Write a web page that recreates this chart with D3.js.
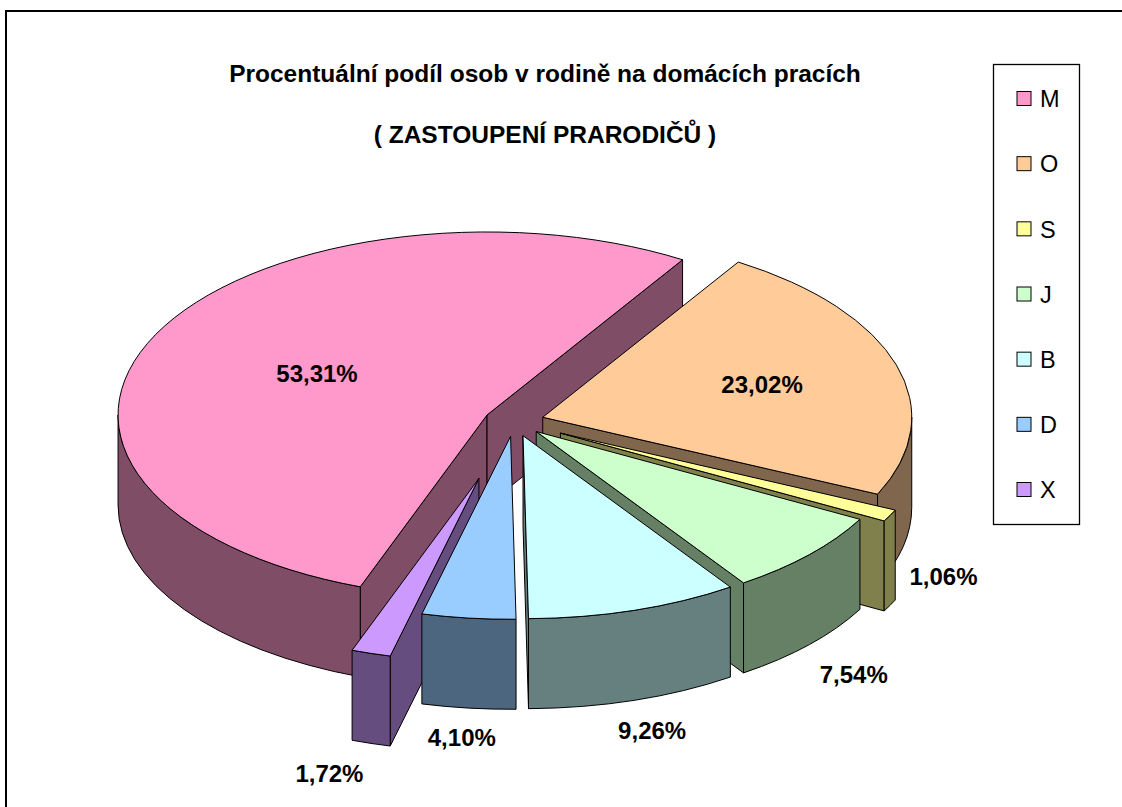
<!DOCTYPE html>
<html>
<head>
<meta charset="utf-8">
<script src="https://cdn.jsdelivr.net/npm/d3@7"></script>
<style>
  html, body { margin: 0; padding: 0; background: #fff; }
  svg { display: block; }
  text { font-family: Arial, "Liberation Sans", sans-serif; fill: #000; }
</style>
</head>
<body>
<div id="chart"></div>
<script>
// data
const categories = ['M', 'O', 'S', 'J', 'B', 'D', 'X'];
const shares = [53.31, 23.02, 1.06, 7.54, 9.26, 4.10, 1.72];
const topColors = ['#FF99CC', '#FFCC99', '#FFFF99', '#CCFFCC', '#CCFFFF', '#99CCFF', '#CC99FF'];
const titleLines = ['Procentuální podíl osob v rodině na domácích pracích', '( ZASTOUPENÍ PRARODIČŮ )'];

// chart options
const firstSliceDeg = 200.1;
const defaultExplode = 30;
const explodeBy = { S: 52, X: 120 };
const labelNudge = { S: [0, -59], X: [-24, 0] };

const width = 1122, height = 807;
const cx = 514, cy = 421.5;
const rx = 369, ry = 183, depth = 90;

const fmt = d3.formatLocale({ decimal: ',', thousands: ' ', grouping: [3], currency: ['', ''] }).format('.2f');

const svg = d3.select('#chart').append('svg')
    .attr('width', width)
    .attr('height', height);

svg.append('rect')
    .attr('x', 6).attr('y', 11)
    .attr('width', width + 20).attr('height', height + 20)
    .attr('fill', '#fff')
    .attr('stroke', '#000')
    .attr('stroke-width', 2);

// titles
svg.selectAll('text.title')
    .data(titleLines)
    .join('text')
    .attr('class', 'title')
    .attr('x', 545)
    .attr('y', (d, i) => i === 0 ? 82 : 143)
    .attr('text-anchor', 'middle')
    .style('font-size', '24.5px')
    .style('font-weight', 'bold')
    .text(d => d);

// pie layout
const a0 = firstSliceDeg * Math.PI / 180;
const pie = d3.pie().sort(null).value(d => d)
    .startAngle(a0).endAngle(a0 + 2 * Math.PI);

const slices = pie(shares).map((s, i) => {
    const mid = (s.startAngle + s.endAngle) / 2;
    const e = explodeBy[categories[i]] ?? defaultExplode;
    const c = [cx + e * Math.sin(mid), cy - e * Math.cos(mid) * ry / rx];
    const top = d3.color(topColors[i]);
    const side = d3.rgb(top.r / 2, top.g / 2, top.b / 2);
    return { ...s, i, mid, c, top: topColors[i], side: side.formatHex(), key: categories[i] };
});

const pt = (c, a, dz = 0) => [c[0] + rx * Math.sin(a), c[1] - ry * Math.cos(a) + dz];

function topPath(d) {
    const p0 = pt(d.c, d.startAngle), p1 = pt(d.c, d.endAngle);
    const large = d.endAngle - d.startAngle > Math.PI ? 1 : 0;
    return `M${d.c}L${p0}A${rx},${ry} 0 ${large} 1 ${p1}Z`;
}
function radialPath(c, a) {
    return `M${c}L${pt(c, a)}L${pt(c, a, depth)}L${[c[0], c[1] + depth]}Z`;
}
function wallPath(c, b0, b1) {
    return `M${pt(c, b0)}A${rx},${ry} 0 0 1 ${pt(c, b1)}L${pt(c, b1, depth)}A${rx},${ry} 0 0 0 ${pt(c, b0, depth)}Z`;
}

// side faces, back to front
const order = slices.slice().sort((a, b) => (-Math.cos(a.mid)) - (-Math.cos(b.mid)));
const sideFaces = [];
order.forEach(d => {
    if (Math.sin(d.startAngle) < 0) sideFaces.push({ d: radialPath(d.c, d.startAngle), fill: d.side });
    if (Math.sin(d.endAngle) > 0) sideFaces.push({ d: radialPath(d.c, d.endAngle), fill: d.side });
    [0, 1].forEach(k => {
        const lo = Math.max(d.startAngle, Math.PI / 2 + 2 * Math.PI * k);
        const hi = Math.min(d.endAngle, 3 * Math.PI / 2 + 2 * Math.PI * k);
        if (hi > lo) sideFaces.push({ d: wallPath(d.c, lo, hi), fill: d.side });
    });
});

const pieG = svg.append('g');
pieG.append('g').selectAll('path')
    .data(sideFaces)
    .join('path')
    .attr('d', f => f.d)
    .attr('fill', f => f.fill)
    .attr('stroke', '#000')
    .attr('stroke-width', 1)
    .attr('stroke-linejoin', 'round');

pieG.append('g').selectAll('path')
    .data(order)
    .join('path')
    .attr('d', topPath)
    .attr('fill', d => d.top)
    .attr('stroke', '#000')
    .attr('stroke-width', 1)
    .attr('stroke-linejoin', 'round');

// data labels
function labelPos(d) {
    const span = d.endAngle - d.startAngle;
    if (d.value > 15) {
        // inside: between sector centroid and a fixed ring
        const centroid = 4 * Math.sin(span / 2) / (3 * span);
        const f = (centroid + 0.63) / 2;
        return [d.c[0] + f * rx * Math.sin(d.mid), d.c[1] - f * ry * Math.cos(d.mid)];
    }
    const p = pt(d.c, d.mid, depth);
    const n = labelNudge[d.key] || [0, 0];
    return [p[0] + 60 * Math.sin(d.mid) + n[0], p[1] + 30 + n[1]];
}

svg.append('g').selectAll('text')
    .data(slices)
    .join('text')
    .attr('x', d => labelPos(d)[0])
    .attr('y', d => labelPos(d)[1])
    .attr('dy', '0.35em')
    .attr('text-anchor', 'middle')
    .style('font-size', '24px')
    .style('font-weight', 'bold')
    .text(d => fmt(d.value) + '%');

// legend
const legendY = d3.scalePoint().domain(categories).range([99, 490]);
svg.append('rect')
    .attr('x', 993.5).attr('y', 64.5)
    .attr('width', 86).attr('height', 460)
    .attr('fill', '#fff')
    .attr('stroke', '#000')
    .attr('stroke-width', 1.3);

const item = svg.append('g').selectAll('g')
    .data(categories)
    .join('g')
    .attr('transform', d => `translate(0,${legendY(d)})`);

item.append('rect')
    .attr('x', 1017).attr('y', -7.5)
    .attr('width', 14).attr('height', 14)
    .attr('fill', (d, i) => topColors[i])
    .attr('stroke', '#000')
    .attr('stroke-width', 1);

item.append('text')
    .attr('x', 1040)
    .attr('dy', '0.35em')
    .style('font-size', '23.5px')
    .text(d => d);
</script>
</body>
</html>
